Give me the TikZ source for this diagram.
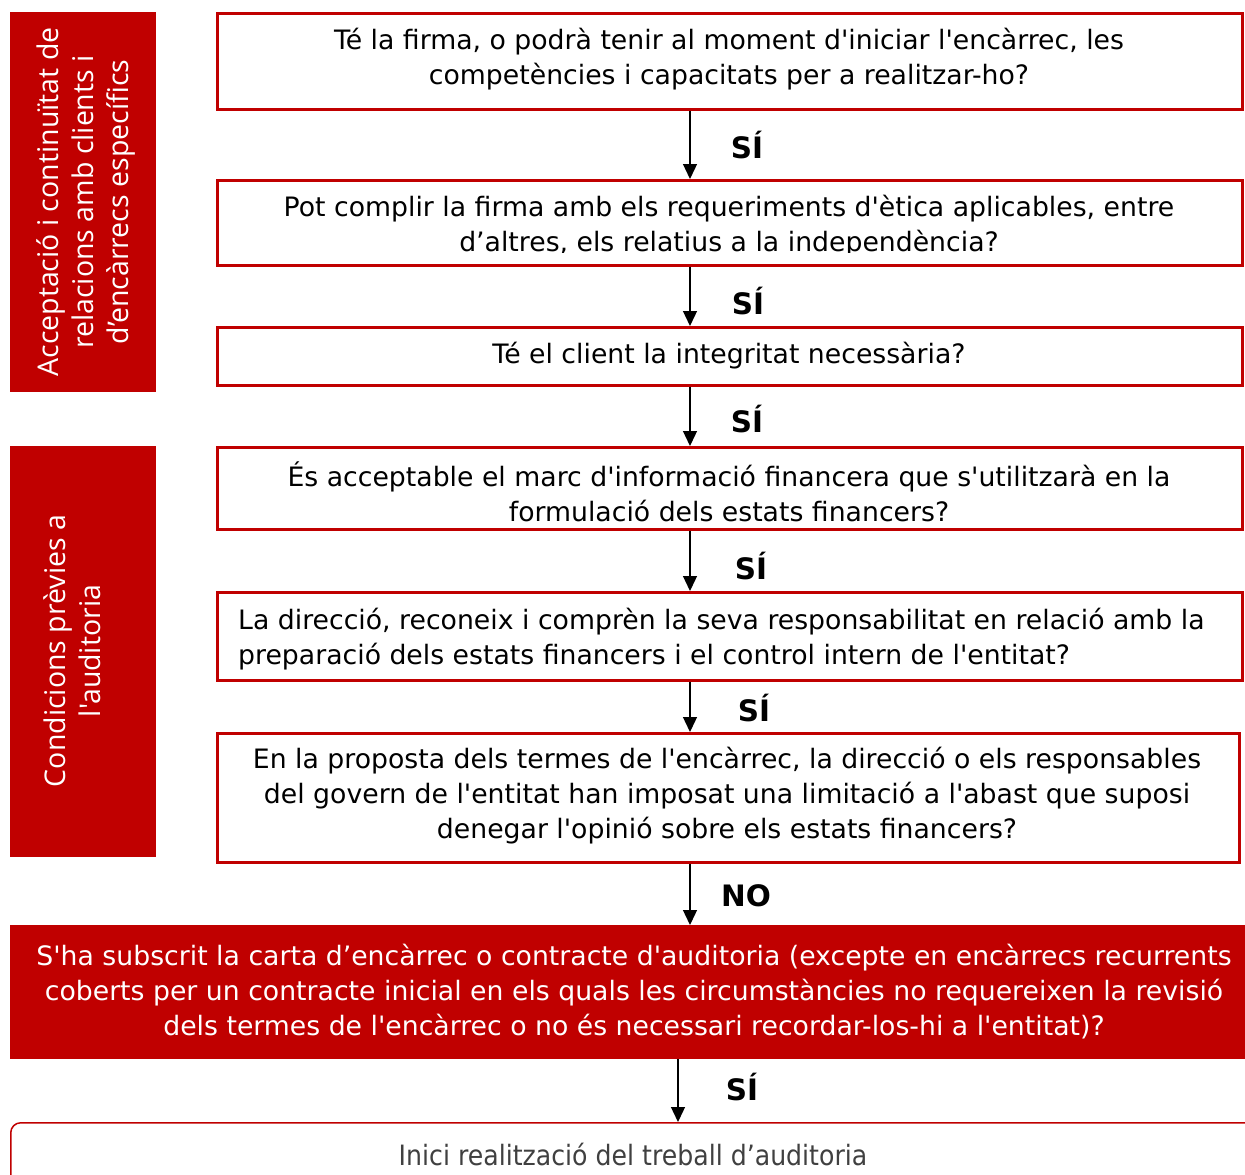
\documentclass[tikz,border=0pt]{standalone}
\usepackage{fontspec}
\setmainfont{DejaVu Sans}[Ligatures=TeXOff]
\newfontfamily\sidefont{Open Sans}[Ligatures=TeXOff]
\usetikzlibrary{arrows.meta}
\definecolor{dred}{HTML}{C00000}
\definecolor{txtgray}{HTML}{404040}
\begin{document}
\begin{tikzpicture}[x=1pt,y=-1pt,
  qbox/.style={draw=dred, line width=2.5pt, fill=white, inner sep=0pt, anchor=north west},
  qtext/.style={align=center, font=\fontsize{26.7}{35}\selectfont, text=black, inner sep=0pt},
  sidebox/.style={fill=dred, inner sep=0pt, anchor=north west},
  sidetext/.style={rotate=90, align=center, text=white, font=\sidefont\fontsize{28.5}{35}\selectfont, inner sep=0pt},
  lbl/.style={font=\fontsize{29.5}{32}\selectfont\bfseries, inner sep=0pt},
  arr/.style={-{Triangle[length=15pt,width=14pt]}, line width=1.3pt}
]
\useasboundingbox (0,0) rectangle (1245,1175);
\clip (0,0) rectangle (1245,1175);

% side boxes
\node[sidebox, minimum width=146pt, minimum height=380pt] (s1) at (10,12) {};
\node[sidetext] (s1t) at (86,202) {Acceptació i continuïtat de\\relacions amb clients i\\d’encàrrecs específics};
\node[sidebox, minimum width=146pt, minimum height=411pt] (s2) at (10,446) {};
\node[sidetext] (s2t) at (72,651) {Condicions prèvies a\\l'auditoria};

% question boxes
\node[qbox, minimum width=1025pt, minimum height=96pt] (b1) at (216,12) {};
\node[qtext] (b1t) at (729,59) {Té la firma, o podrà tenir al moment d'iniciar l'encàrrec, les\\competències i capacitats per a realitzar-ho?};

\node[qbox, minimum width=1025pt, minimum height=85pt] (b2) at (216,179) {};
\begin{scope}
\clip (216,179) rectangle (1241,252);
\node[qtext] (b2t) at (729,226) {Pot complir la firma amb els requeriments d'ètica aplicables, entre\\d’altres, els relatius a la independència?};
\end{scope}

\node[qbox, minimum width=1025pt, minimum height=58pt] (b3) at (216,326) {};
\node[qtext] (b3t) at (729,356) {Té el client la integritat necessària?};

\node[qbox, minimum width=1025pt, minimum height=82pt] (b4) at (216,446) {};
\node[qtext] (b4t) at (729,492) {És acceptable el marc d'informació financera que s'utilitzarà en la\\formulació dels estats financers?};

\node[qbox, minimum width=1025pt, minimum height=88pt] (b5) at (216,591) {};
\node[qtext, align=left, anchor=west] (b5t) at (238,639) {La direcció, reconeix i comprèn la seva responsabilitat en relació amb la\\preparació dels estats financers i el control intern de l'entitat?};

\node[qbox, minimum width=1022pt, minimum height=129pt] (b6) at (216,732) {};
\node[qtext] (b6t) at (727,796) {En la proposta dels termes de l'encàrrec, la direcció o els responsables\\del govern de l'entitat han imposat una limitació a l'abast que suposi\\denegar l'opinió sobre els estats financers?};

% red box
\node[sidebox, minimum width=1245pt, minimum height=134pt] (b7) at (10,925) {};
\node[qtext, text=white] (b7t) at (634,992) {S'ha subscrit la carta d’encàrrec o contracte d'auditoria (excepte en encàrrecs recurrents\\coberts per un contracte inicial en els quals les circumstàncies no requereixen la revisió\\dels termes de l'encàrrec o no és necessari recordar-los-hi a l'entitat)?};

% final box
\node[draw=dred, line width=1.5pt, rounded corners=10pt, fill=white, anchor=north west, minimum width=1260pt, minimum height=80pt, inner sep=0pt] (b8) at (10,1122) {};
\node[inner sep=0pt, text=txtgray, font=\fontsize{28}{32}\selectfont] (b8t) at (633,1154) {\scalebox{0.9}[1]{Inici realització del treball d’auditoria}};

% arrows
\draw[arr] (b1.south -| 690,0) -- (b2.north -| 690,0);
\draw[arr] (b2.south -| 690,0) -- (b3.north -| 690,0);
\draw[arr] (b3.south -| 690,0) -- (b4.north -| 690,0);
\draw[arr] (b4.south -| 690,0) -- (b5.north -| 690,0);
\draw[arr] (b5.south -| 690,0) -- (b6.north -| 690,0);
\draw[arr] (b6.south -| 690,0) -- (b7.north -| 690,0);
\draw[arr] (b7.south -| 678,0) -- (b8.north -| 678,0);

\node[lbl] (l1) at (747,145) {SÍ};
\node[lbl] (l2) at (748,301) {SÍ};
\node[lbl] (l3) at (747,419) {SÍ};
\node[lbl] (l4) at (751,566) {SÍ};
\node[lbl] (l5) at (754,708) {SÍ};
\node[lbl] (l6) at (746,896) {NO};
\node[lbl] (l7) at (742,1087) {SÍ};
\end{tikzpicture}
\end{document}
